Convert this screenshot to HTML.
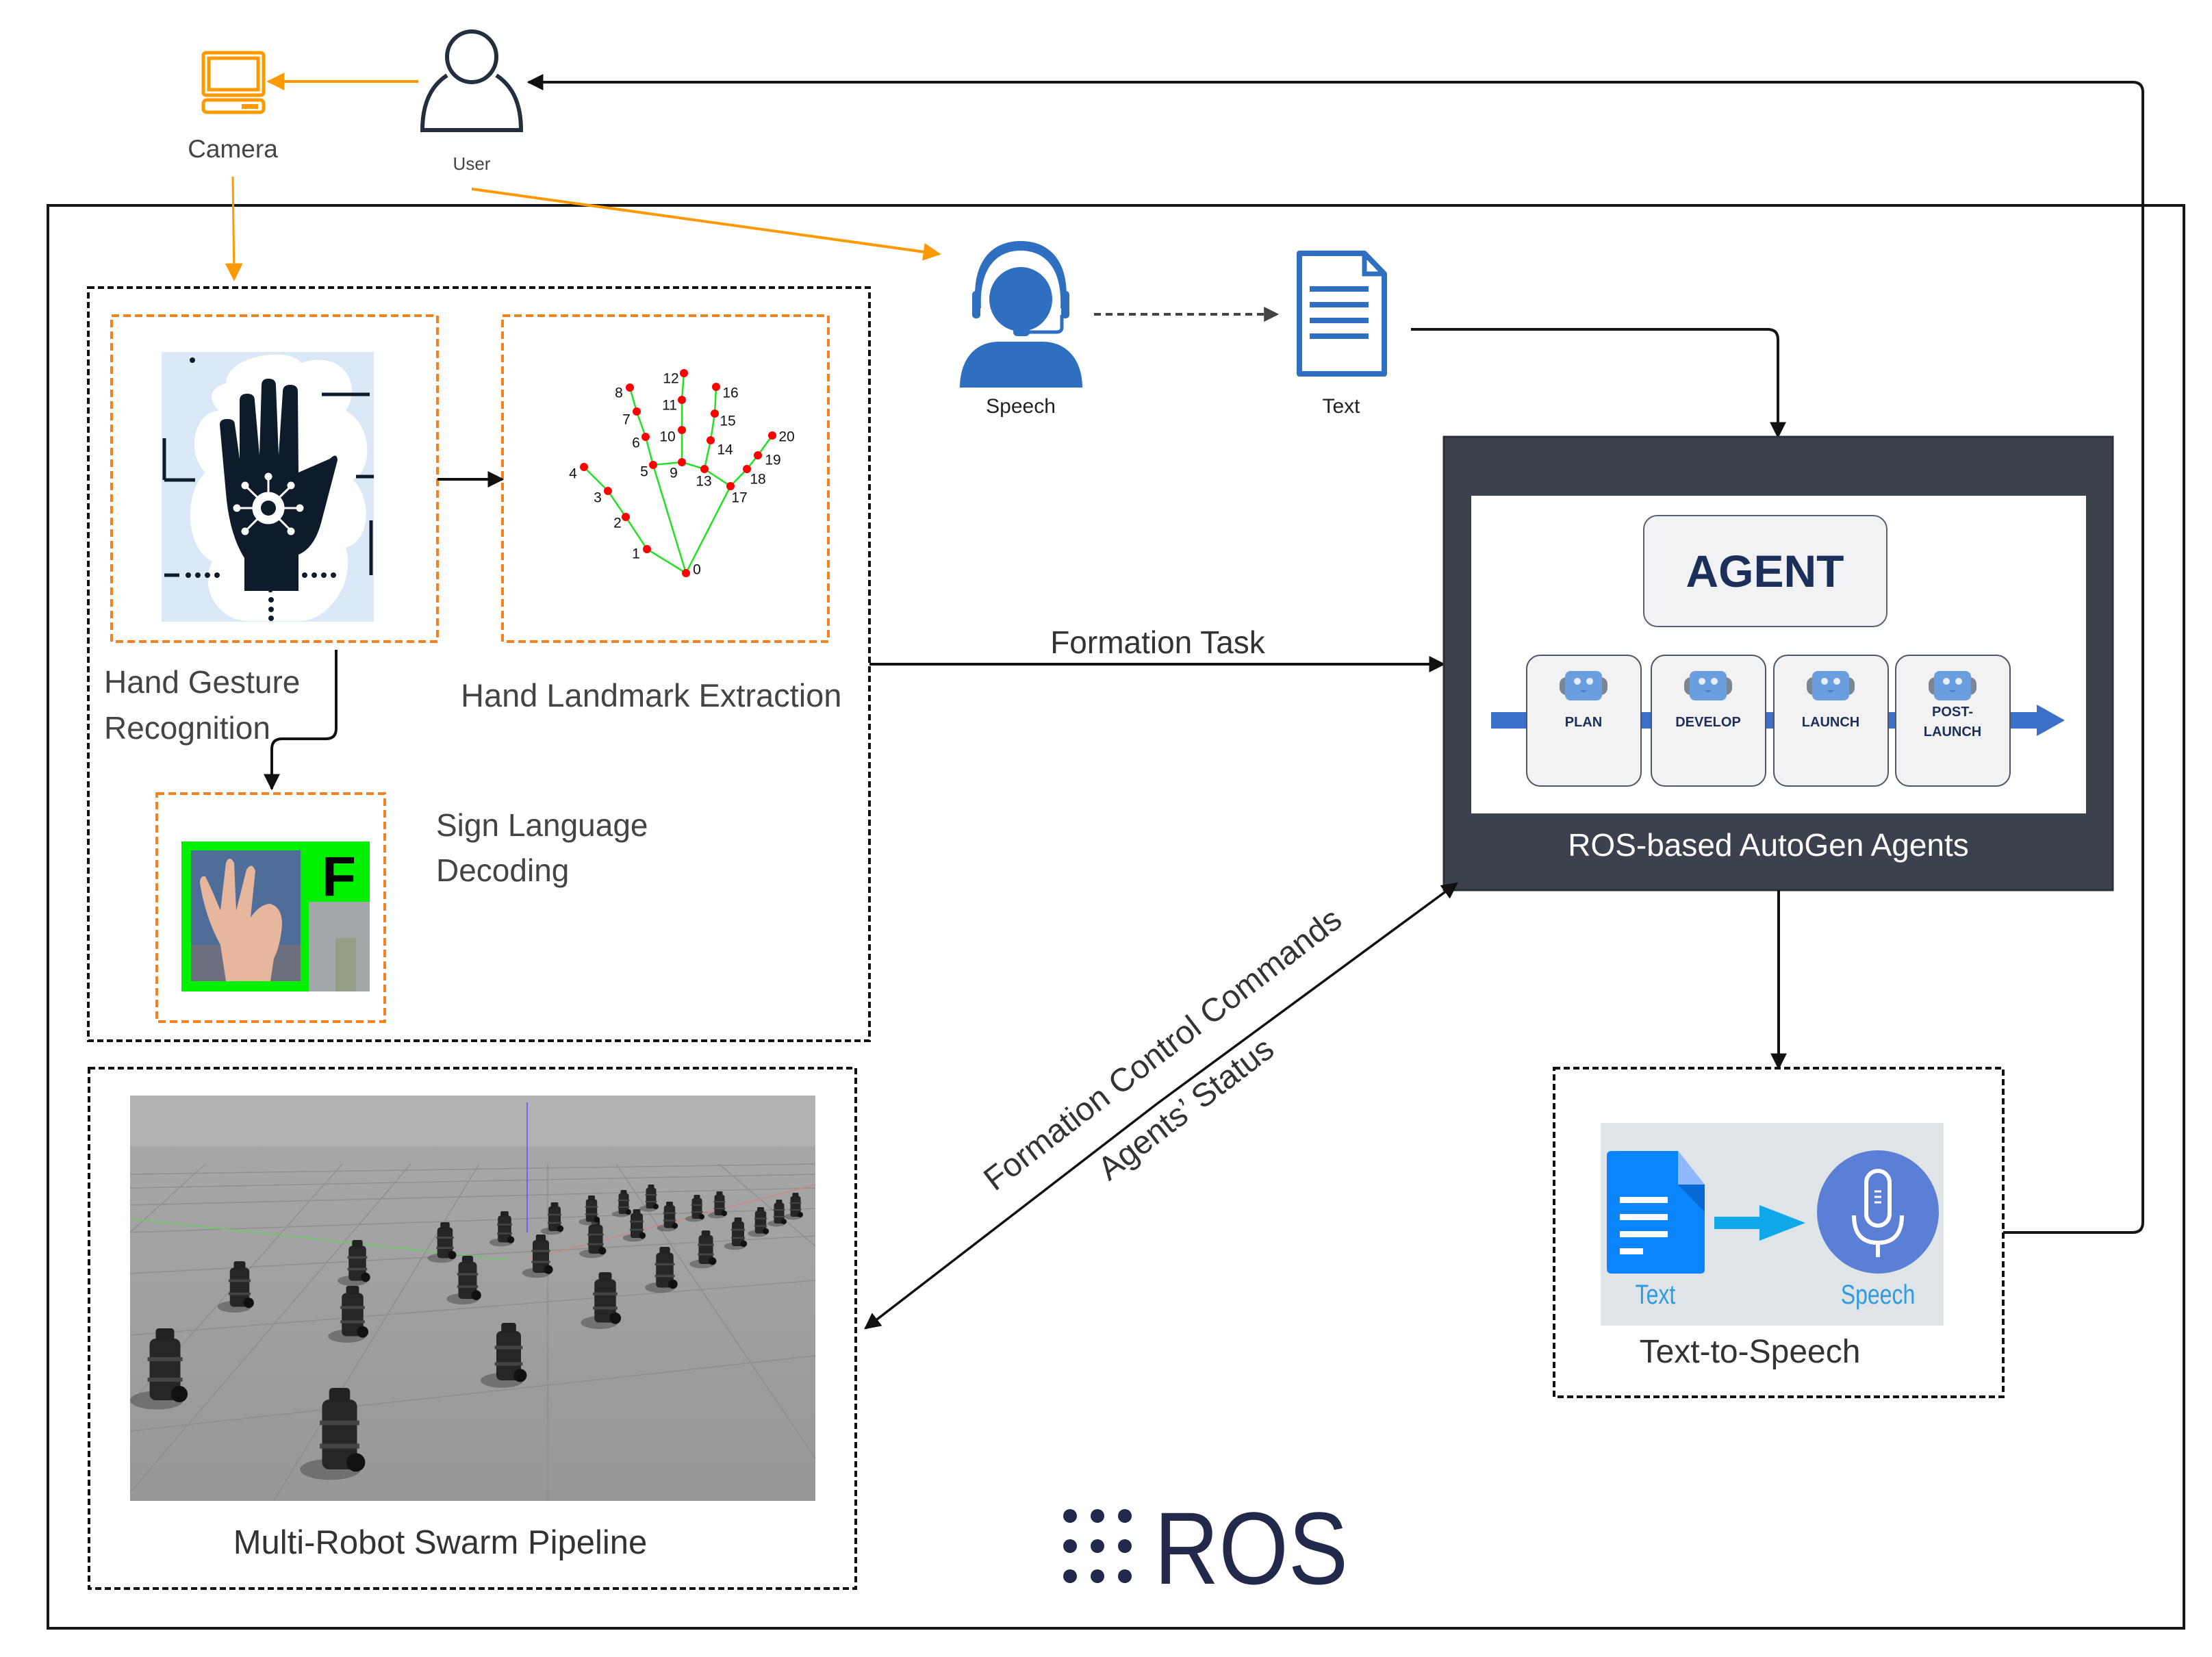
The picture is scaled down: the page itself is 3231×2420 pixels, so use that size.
<!DOCTYPE html>
<html><head><meta charset="utf-8"><style>
html,body{margin:0;padding:0;background:#fff}
svg{display:block}
text{font-family:"Liberation Sans","DejaVu Sans",sans-serif}
</style></head><body>
<svg width="3231" height="2420" viewBox="0 0 3231 2420" xmlns="http://www.w3.org/2000/svg">
<defs>
<marker id="abk" viewBox="0 0 10 10" refX="9" refY="5" markerWidth="24" markerHeight="24" orient="auto" markerUnits="userSpaceOnUse"><path d="M0,0 L10,5 L0,10 z" fill="#111"/></marker>
<marker id="aor" viewBox="0 0 10 10" refX="9" refY="5" markerWidth="26" markerHeight="26" orient="auto" markerUnits="userSpaceOnUse"><path d="M0,0 L10,5 L0,10 z" fill="#f90"/></marker>
<marker id="agr" viewBox="0 0 10 10" refX="9" refY="5" markerWidth="22" markerHeight="22" orient="auto" markerUnits="userSpaceOnUse"><path d="M0,0 L10,5 L0,10 z" fill="#444"/></marker>
<linearGradient id="floor" x1="0" y1="0" x2="0" y2="1"><stop offset="0" stop-color="#a9a9a9"/><stop offset="1" stop-color="#979797"/></linearGradient>
<g id="rb"><ellipse cx="-8" cy="30" rx="26" ry="9" fill="#555" opacity="0.6"/><rect x="-15" y="-30" width="30" height="60" rx="6" fill="#262626"/><rect x="-17" y="-12" width="34" height="4" fill="#444"/><rect x="-17" y="8" width="34" height="4" fill="#444"/><rect x="-9" y="-40" width="18" height="12" rx="3" fill="#222"/><circle cx="14" cy="24" r="8" fill="#111"/></g>
</defs>

<rect x="70" y="300" width="3120" height="2078" fill="none" stroke="#161616" stroke-width="4"/>

<g fill="none" stroke="#f90" stroke-width="5">
<rect x="297" y="77" width="88" height="62" rx="4"/>
<rect x="305" y="85" width="72" height="46"/>
<rect x="297" y="146" width="88" height="18" rx="5"/>
</g>
<rect x="353" y="152" width="24" height="7" fill="#f90"/>
<text x="340" y="230" font-size="37" fill="#444" text-anchor="middle">Camera</text>

<g fill="none" stroke="#232f3e" stroke-width="6">
<ellipse cx="689" cy="83" rx="36" ry="37"/>
<path d="M 653,110 C 630,125 617,150 617,190 L 761,190 C 761,150 748,125 725,110"/>
</g>
<text x="689" y="248" font-size="26" fill="#444" text-anchor="middle">User</text>

<line x1="611" y1="119" x2="392" y2="119" stroke="#f90" stroke-width="4" marker-end="url(#aor)"/>
<line x1="340" y1="258" x2="342" y2="408" stroke="#f90" stroke-width="3" marker-end="url(#aor)"/>
<line x1="689" y1="276" x2="1372" y2="371" stroke="#f90" stroke-width="4" marker-end="url(#aor)"/>

<path d="M 2926,1800 L 3115,1800 Q 3130,1800 3130,1785 L 3130,135 Q 3130,120 3115,120 L 772,120" fill="none" stroke="#161616" stroke-width="4" marker-end="url(#abk)"/>

<g fill="#2e6fbf">
<path d="M 1425,450 C 1418,380 1450,352 1491,352 C 1532,352 1564,380 1557,450 L 1549,450 C 1552,390 1525,366 1491,366 C 1457,366 1430,390 1433,450 Z"/>
<rect x="1420" y="425" width="12" height="40" rx="5"/>
<rect x="1550" y="425" width="12" height="40" rx="5"/>
<ellipse cx="1491" cy="437" rx="46" ry="47"/>
<path d="M 1551,460 L 1551,478 Q 1551,485 1543,485 L 1500,485" fill="none" stroke="#2e6fbf" stroke-width="5"/>
<rect x="1480" y="476" width="24" height="15" rx="6"/>
<path d="M 1402,566 C 1402,530 1420,499 1460,499 L 1522,499 C 1562,499 1581,530 1581,566 Z"/>
</g>
<text x="1491" y="603" font-size="30" fill="#222" text-anchor="middle">Speech</text>

<line x1="1598" y1="459" x2="1866" y2="459" stroke="#444" stroke-width="4" stroke-dasharray="10 7" marker-end="url(#agr)"/>

<path d="M 1898,370 L 1993,370 L 2022,400 L 2022,546 L 1898,546 Z" fill="none" stroke="#2e6fbf" stroke-width="8" stroke-linejoin="round"/>
<path d="M 1993,370 L 1993,400 L 2022,400" fill="none" stroke="#2e6fbf" stroke-width="7"/>
<g stroke="#2e6fbf" stroke-width="8"><line x1="1913" y1="422" x2="1999" y2="422"/><line x1="1913" y1="445" x2="1999" y2="445"/><line x1="1913" y1="468" x2="1999" y2="468"/><line x1="1913" y1="491" x2="1999" y2="491"/></g>
<text x="1959" y="603" font-size="30" fill="#222" text-anchor="middle">Text</text>

<path d="M 2061,481 L 2582,481 Q 2597,481 2597,496 L 2597,638" fill="none" stroke="#161616" stroke-width="4" marker-end="url(#abk)"/>

<rect x="129" y="420" width="1141" height="1100" fill="none" stroke="#111" stroke-width="4" stroke-dasharray="9 5"/>

<rect x="163" y="461" width="476" height="476" fill="none" stroke="#f5821f" stroke-width="4" stroke-dasharray="11 6"/>
<rect x="236" y="514" width="310" height="394" fill="#dbe8f7"/>
<path d="M 330,560 C 330,520 420,505 440,530 C 500,510 530,560 505,600 C 545,620 545,690 515,700 C 545,730 540,790 505,800 C 520,850 480,905 440,907 L 360,907 C 320,905 290,860 310,820 C 270,800 268,720 300,690 C 270,660 285,600 320,600 C 300,580 310,565 330,560 Z" fill="#fff"/>
<g fill="#0d1b2a">
<path d="M 321,620 Q 321,612 332,612 Q 343,612 343,620 L 350,670 L 350,585 Q 350,575 361,575 Q 372,575 372,585 L 379,665 L 382,563 Q 382,553 392,553 Q 403,553 403,563 L 407,665 L 413,572 Q 413,562 424,562 Q 435,562 435,572 L 436,690 L 482,670 Q 492,660 493,672 L 470,760 Q 460,800 436,810 L 436,863 L 357,863 L 357,815 Q 335,780 330,720 Z"/>
</g>
<g fill="#fff" stroke="#fff" stroke-width="3">
<circle cx="392" cy="742" r="22"/>
<line x1="392" y1="742" x2="392" y2="697"/><line x1="392" y1="742" x2="437" y2="742"/><line x1="392" y1="742" x2="347" y2="742"/>
<line x1="392" y1="742" x2="425" y2="710"/><line x1="392" y1="742" x2="359" y2="710"/><line x1="392" y1="742" x2="425" y2="775"/><line x1="392" y1="742" x2="359" y2="775"/>
<circle cx="392" cy="696" r="4"/><circle cx="438" cy="742" r="4"/><circle cx="346" cy="742" r="4"/><circle cx="425" cy="709" r="4"/><circle cx="358" cy="709" r="4"/><circle cx="425" cy="776" r="4"/><circle cx="358" cy="776" r="4"/>
</g>
<circle cx="392" cy="742" r="11" fill="#0d1b2a"/>
<g stroke="#0d1b2a" stroke-width="5" fill="none">
<line x1="240" y1="701" x2="285" y2="701"/><line x1="240" y1="640" x2="240" y2="701"/>
<line x1="540" y1="576" x2="470" y2="576"/><line x1="546" y1="696" x2="520" y2="696"/>
<line x1="240" y1="840" x2="262" y2="840"/>
<line x1="395" y1="840" x2="395" y2="865"/>
<line x1="542" y1="760" x2="542" y2="840"/>
</g>
<g fill="#0d1b2a"><circle cx="275" cy="840" r="4"/><circle cx="289" cy="840" r="4"/><circle cx="303" cy="840" r="4"/><circle cx="317" cy="840" r="4"/>
<circle cx="445" cy="840" r="4"/><circle cx="459" cy="840" r="4"/><circle cx="473" cy="840" r="4"/><circle cx="487" cy="840" r="4"/>
<circle cx="396" cy="876" r="4"/><circle cx="396" cy="890" r="4"/><circle cx="396" cy="903" r="4"/><circle cx="281" cy="526" r="4"/></g>

<rect x="734" y="461" width="476" height="476" fill="none" stroke="#f5821f" stroke-width="4" stroke-dasharray="11 6"/>
<line x1="639" y1="700" x2="734" y2="700" stroke="#111" stroke-width="4" marker-end="url(#abk)"/>

<g stroke="#22e022" stroke-width="2.5" fill="none">
<polyline points="1002,837 945,802 914,755 888,717 853,682"/>
<polyline points="1002,837 954,679 943,638 930,601 920,566"/>
<polyline points="954,679 996,675 996,628 996,584 999,545"/>
<polyline points="996,675 1029,685 1038,643 1044,604 1046,565"/>
<polyline points="1029,685 1067,710 1091,685 1107,665 1128,636"/>
<line x1="1002" y1="837" x2="1067" y2="710"/>
</g>
<g fill="#f00">
<circle cx="1002" cy="837" r="6"/><circle cx="945" cy="802" r="6"/><circle cx="914" cy="755" r="6"/><circle cx="888" cy="717" r="6"/><circle cx="853" cy="682" r="6"/>
<circle cx="954" cy="679" r="6"/><circle cx="943" cy="638" r="6"/><circle cx="930" cy="601" r="6"/><circle cx="920" cy="566" r="6"/>
<circle cx="996" cy="675" r="6"/><circle cx="996" cy="628" r="6"/><circle cx="996" cy="584" r="6"/><circle cx="999" cy="545" r="6"/>
<circle cx="1029" cy="685" r="6"/><circle cx="1038" cy="643" r="6"/><circle cx="1044" cy="604" r="6"/><circle cx="1046" cy="565" r="6"/>
<circle cx="1067" cy="710" r="6"/><circle cx="1091" cy="685" r="6"/><circle cx="1107" cy="665" r="6"/><circle cx="1128" cy="636" r="6"/>
</g>
<g font-size="21" fill="#111" text-anchor="middle" dominant-baseline="central">
<text x="1018" y="832">0</text><text x="929" y="809">1</text><text x="902" y="764">2</text><text x="873" y="727">3</text><text x="837" y="692">4</text>
<text x="941" y="689">5</text><text x="929" y="647">6</text><text x="915" y="613">7</text><text x="904" y="574">8</text>
<text x="984" y="691">9</text><text x="975" y="638">10</text><text x="978" y="592">11</text><text x="980" y="553">12</text>
<text x="1028" y="703">13</text><text x="1059" y="657">14</text><text x="1063" y="615">15</text><text x="1067" y="574">16</text>
<text x="1080" y="727">17</text><text x="1107" y="700">18</text><text x="1129" y="672">19</text><text x="1149" y="638">20</text>
</g>

<g font-size="46" fill="#444">
<text x="152" y="1012">Hand Gesture</text>
<text x="152" y="1079">Recognition</text>
<text x="673" y="1032" font-size="47">Hand Landmark Extraction</text>
<text x="637" y="1221">Sign Language</text>
<text x="637" y="1287">Decoding</text>
</g>

<path d="M 491,949 L 491,1064 Q 491,1079 476,1079 L 412,1079 Q 397,1079 397,1094 L 397,1152" fill="none" stroke="#111" stroke-width="4" marker-end="url(#abk)"/>

<rect x="229" y="1159" width="333" height="333" fill="none" stroke="#f5821f" stroke-width="4" stroke-dasharray="11 6"/>
<rect x="265" y="1229" width="275" height="219" fill="#00f000"/>
<rect x="279" y="1242" width="160" height="191" fill="#4f6d99"/>
<rect x="279" y="1380" width="160" height="53" fill="#6d6f7e"/>
<path d="M 330,1433 L 322,1380 Q 300,1340 292,1290 Q 292,1278 300,1280 Q 310,1300 322,1330 L 330,1260 Q 335,1248 342,1260 L 345,1330 L 360,1270 Q 368,1258 373,1272 L 366,1340 Q 380,1320 395,1320 Q 412,1325 412,1350 Q 410,1380 400,1400 L 395,1433 Z" fill="#e6b79c"/>
<rect x="451" y="1317" width="89" height="131" fill="#a3a7a9"/>
<rect x="490" y="1370" width="30" height="78" fill="#8a9a70" opacity="0.6"/>
<text x="495" y="1308" font-size="82" font-weight="bold" fill="#000" text-anchor="middle">F</text>

<line x1="1270" y1="970" x2="2109" y2="970" stroke="#111" stroke-width="4" marker-end="url(#abk)"/>
<text x="1691" y="954" font-size="46" fill="#333" text-anchor="middle">Formation Task</text>

<rect x="2109" y="638" width="977" height="662" fill="#3b414d" stroke="#2a2f38" stroke-width="3"/>
<rect x="2149" y="724" width="898" height="464" fill="#fff"/>
<rect x="2401" y="753" width="355" height="162" rx="20" fill="#f1f2f3" stroke="#5a6270" stroke-width="2"/>
<text x="2578" y="857" font-size="66" font-weight="bold" fill="#1c2f5a" text-anchor="middle">AGENT</text>
<rect x="2178" y="1040" width="800" height="24" fill="#3d70c8"/>
<path d="M 2975,1029 L 3016,1052 L 2975,1075 Z" fill="#3d70c8"/>
<g fill="#f2f2f3" stroke="#4e5666" stroke-width="2">
<rect x="2230" y="957" width="167" height="191" rx="20"/>
<rect x="2412" y="957" width="167" height="191" rx="20"/>
<rect x="2591" y="957" width="167" height="191" rx="20"/>
<rect x="2769" y="957" width="167" height="191" rx="20"/>
</g>
<g>
<g transform="translate(2313,0)"><rect x="-35" y="989" width="70" height="26" rx="10" fill="#7b8593"/><rect x="-27" y="980" width="54" height="43" rx="8" fill="#6b9edf"/><circle cx="-9" cy="995" r="5" fill="#e6effa"/><circle cx="9" cy="995" r="5" fill="#e6effa"/><path d="M -5,1008 Q 0,1014 5,1008 Z" fill="#4a7fc7"/></g>
<g transform="translate(2495,0)"><rect x="-35" y="989" width="70" height="26" rx="10" fill="#7b8593"/><rect x="-27" y="980" width="54" height="43" rx="8" fill="#6b9edf"/><circle cx="-9" cy="995" r="5" fill="#e6effa"/><circle cx="9" cy="995" r="5" fill="#e6effa"/><path d="M -5,1008 Q 0,1014 5,1008 Z" fill="#4a7fc7"/></g>
<g transform="translate(2674,0)"><rect x="-35" y="989" width="70" height="26" rx="10" fill="#7b8593"/><rect x="-27" y="980" width="54" height="43" rx="8" fill="#6b9edf"/><circle cx="-9" cy="995" r="5" fill="#e6effa"/><circle cx="9" cy="995" r="5" fill="#e6effa"/><path d="M -5,1008 Q 0,1014 5,1008 Z" fill="#4a7fc7"/></g>
<g transform="translate(2852,0)"><rect x="-35" y="989" width="70" height="26" rx="10" fill="#7b8593"/><rect x="-27" y="980" width="54" height="43" rx="8" fill="#6b9edf"/><circle cx="-9" cy="995" r="5" fill="#e6effa"/><circle cx="9" cy="995" r="5" fill="#e6effa"/><path d="M -5,1008 Q 0,1014 5,1008 Z" fill="#4a7fc7"/></g>
</g>
<g font-size="20" font-weight="bold" fill="#1c2f5a" text-anchor="middle">
<text x="2313" y="1061">PLAN</text>
<text x="2495" y="1061">DEVELOP</text>
<text x="2674" y="1061">LAUNCH</text>
<text x="2852" y="1046">POST-</text>
<text x="2852" y="1075">LAUNCH</text>
</g>
<text x="2583" y="1250" font-size="46" fill="#fff" text-anchor="middle">ROS-based AutoGen Agents</text>

<line x1="1690" y1="1612" x2="2128" y2="1290" stroke="#111" stroke-width="3.5" marker-end="url(#abk)"/>
<line x1="1690" y1="1612" x2="1264" y2="1940" stroke="#111" stroke-width="3.5" marker-end="url(#abk)"/>
<text x="1708" y="1545" font-size="48" fill="#333" text-anchor="middle" transform="rotate(-37.5 1708 1545)">Formation Control Commands</text>
<text x="1742" y="1632" font-size="48" fill="#333" text-anchor="middle" transform="rotate(-37.5 1742 1632)">Agents’ Status</text>

<line x1="2598" y1="1300" x2="2598" y2="1560" stroke="#111" stroke-width="4" marker-end="url(#abk)"/>

<rect x="2270" y="1560" width="656" height="480" fill="none" stroke="#111" stroke-width="4" stroke-dasharray="9 5"/>
<rect x="2338" y="1640" width="501" height="296" fill="#dfe4e8"/>
<path d="M 2347,1688 Q 2347,1681 2354,1681 L 2451,1681 L 2490,1730 L 2490,1854 Q 2490,1860 2484,1860 L 2354,1860 Q 2347,1860 2347,1853 Z" fill="#0a84ff"/>
<path d="M 2451,1681 L 2451,1730 L 2490,1730 Z" fill="#8fb8ff"/>
<path d="M 2451,1730 L 2490,1730 L 2490,1770 Z" fill="#0669d4"/>
<g fill="#fff"><rect x="2366" y="1748" width="70" height="9"/><rect x="2366" y="1773" width="70" height="9"/><rect x="2366" y="1798" width="70" height="9"/><rect x="2366" y="1823" width="34" height="9"/></g>
<rect x="2504" y="1777" width="70" height="18" fill="#10a8e8"/>
<path d="M 2570,1760 L 2637,1786 L 2570,1812 Z" fill="#10a8e8"/>
<ellipse cx="2743" cy="1770" rx="89" ry="90" fill="#5b7fd4"/>
<rect x="2726" y="1710" width="34" height="80" rx="17" fill="none" stroke="#fff" stroke-width="6"/>
<path d="M 2708,1775 Q 2708,1815 2743,1815 Q 2778,1815 2778,1775" fill="none" stroke="#fff" stroke-width="6"/>
<line x1="2743" y1="1815" x2="2743" y2="1836" stroke="#fff" stroke-width="6"/>
<g stroke="#fff" stroke-width="3"><line x1="2738" y1="1740" x2="2748" y2="1740"/><line x1="2738" y1="1748" x2="2748" y2="1748"/><line x1="2738" y1="1756" x2="2748" y2="1756"/></g>
<text x="2418" y="1904" font-size="40" fill="#2e9be0" text-anchor="middle" transform="translate(2418 0) scale(0.8 1) translate(-2418 0)">Text</text>
<text x="2743" y="1904" font-size="40" fill="#2e9be0" text-anchor="middle" transform="translate(2743 0) scale(0.8 1) translate(-2743 0)">Speech</text>
<text x="2556" y="1990" font-size="48" fill="#333" text-anchor="middle">Text-to-Speech</text>

<rect x="130" y="1560" width="1120" height="760" fill="none" stroke="#111" stroke-width="4" stroke-dasharray="9 5"/>
<rect x="190" y="1600" width="1001" height="592" fill="url(#floor)"/>
<rect x="190" y="1600" width="1001" height="74" fill="#b2b2b2"/>
<g stroke="#8a8a8a" stroke-width="1.5" fill="none" opacity="0.8">
<line x1="190" y1="1715" x2="1191" y2="1700"/><line x1="190" y1="1735" x2="1191" y2="1715"/><line x1="190" y1="1760" x2="1191" y2="1735"/><line x1="190" y1="1800" x2="1191" y2="1765"/><line x1="190" y1="1860" x2="1191" y2="1805"/><line x1="190" y1="1950" x2="1191" y2="1870"/><line x1="190" y1="2090" x2="1191" y2="1980"/>
<line x1="300" y1="1700" x2="190" y2="1800"/><line x1="500" y1="1700" x2="190" y2="2050"/><line x1="700" y1="1700" x2="400" y2="2192"/><line x1="800" y1="1700" x2="800" y2="2192"/><line x1="900" y1="1700" x2="1191" y2="2130"/><line x1="1050" y1="1700" x2="1191" y2="1820"/><line x1="600" y1="1700" x2="190" y2="2180"/>
</g>
<line x1="190" y1="1780" x2="740" y2="1840" stroke="#6c6" stroke-width="1.5"/>
<line x1="770" y1="1610" x2="770" y2="1800" stroke="#55f" stroke-width="1.5"/>
<line x1="770" y1="1840" x2="1191" y2="1730" stroke="#c88" stroke-width="1.5"/>
<use href="#rb" transform="translate(241,2000) scale(1.5)"/>
<use href="#rb" transform="translate(496,2095) scale(1.7)"/>
<use href="#rb" transform="translate(743,1980) scale(1.2)"/>
<use href="#rb" transform="translate(515,1920) scale(1.05)"/>
<use href="#rb" transform="translate(350,1880) scale(0.95)"/>
<use href="#rb" transform="translate(884,1900) scale(1.05)"/>
<use href="#rb" transform="translate(683,1870) scale(0.9)"/>
<use href="#rb" transform="translate(522,1845) scale(0.85)"/>
<use href="#rb" transform="translate(650,1815) scale(0.75)"/>
<use href="#rb" transform="translate(790,1835) scale(0.8)"/>
<use href="#rb" transform="translate(971,1855) scale(0.85)"/>
<use href="#rb" transform="translate(870,1810) scale(0.7)"/>
<use href="#rb" transform="translate(1031,1825) scale(0.7)"/>
<use href="#rb" transform="translate(737,1795) scale(0.65)"/>
<use href="#rb" transform="translate(810,1780) scale(0.6)"/>
<use href="#rb" transform="translate(864,1768) scale(0.55)"/>
<use href="#rb" transform="translate(930,1790) scale(0.6)"/>
<use href="#rb" transform="translate(1078,1802) scale(0.6)"/>
<use href="#rb" transform="translate(911,1758) scale(0.5)"/>
<use href="#rb" transform="translate(951,1750) scale(0.5)"/>
<use href="#rb" transform="translate(978,1777) scale(0.55)"/>
<use href="#rb" transform="translate(1018,1765) scale(0.5)"/>
<use href="#rb" transform="translate(1051,1760) scale(0.5)"/>
<use href="#rb" transform="translate(1111,1785) scale(0.55)"/>
<use href="#rb" transform="translate(1138,1772) scale(0.5)"/>
<use href="#rb" transform="translate(1162,1762) scale(0.5)"/>
<text x="643" y="2269" font-size="49" fill="#333" text-anchor="middle">Multi-Robot Swarm Pipeline</text>

<g fill="#22294a">
<circle cx="1563" cy="2214" r="10"/><circle cx="1603" cy="2214" r="10"/><circle cx="1643" cy="2214" r="10"/>
<circle cx="1563" cy="2258" r="10"/><circle cx="1603" cy="2258" r="10"/><circle cx="1643" cy="2258" r="10"/>
<circle cx="1563" cy="2302" r="10"/><circle cx="1603" cy="2302" r="10"/><circle cx="1643" cy="2302" r="10"/>
</g>
<text x="1686" y="2313" font-size="150" fill="#22294a" textLength="283" lengthAdjust="spacingAndGlyphs">ROS</text>
</svg>
</body></html>
